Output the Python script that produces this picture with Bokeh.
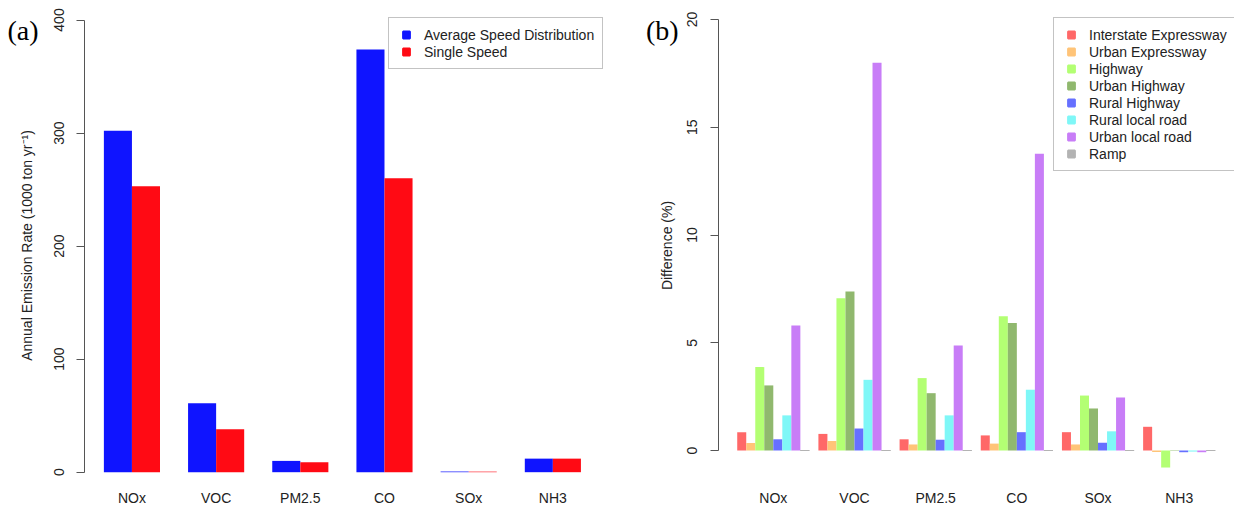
import math
from bokeh.plotting import figure
from bokeh.models import (Range1d, FixedTicker, Legend, LegendItem, Label,
                          ColumnDataSource, LinearAxis)
from bokeh.layouts import row
from bokeh.embed import file_html
from bokeh.resources import INLINE

# ---------------- data ----------------
pollutants = ["NOx", "VOC", "PM2.5", "CO", "SOx", "NH3"]

# panel (a): annual emission rate (1000 ton / yr)
avg_speed = [302, 61, 10, 374, 0.6, 12]
single_speed = [253, 38, 8.8, 260, 0.5, 12]
series_a = ["Average Speed Distribution", "Single Speed"]
colors_a = ["#0F14FF", "#FF0A14"]
yticks_a = [0, 100, 200, 300, 400]

# panel (b): difference (%) by road type
road_types = ["Interstate Expressway", "Urban Expressway", "Highway", "Urban Highway",
              "Rural Highway", "Rural local road", "Urban local road", "Ramp"]
interstate_expressway = [0.85, 0.77, 0.52, 0.70, 0.85, 1.10]
urban_expressway = [0.35, 0.44, 0.28, 0.32, 0.28, -0.07]
highway = [3.87, 7.07, 3.36, 6.23, 2.55, -0.79]
urban_highway = [3.02, 7.38, 2.66, 5.92, 1.95, -0.02]
rural_highway = [0.52, 1.02, 0.50, 0.85, 0.36, -0.08]
rural_local_road = [1.63, 3.28, 1.63, 2.82, 0.89, -0.05]
urban_local_road = [5.80, 17.99, 4.87, 13.77, 2.46, -0.08]
ramp = [0.0, 0.0, 0.0, 0.0, 0.0, 0.0]
series_b = [interstate_expressway, urban_expressway, highway, urban_highway,
            rural_highway, rural_local_road, urban_local_road, ramp]
colors_b = ["#FF6868", "#FFC478", "#B3FF73", "#90B86E", "#6670FF", "#7FF7F7", "#C87DF7", "#B3B3B3"]
yticks_b = [0, 5, 10, 15, 20]

SANS = "Liberation Sans"
SERIF = "Liberation Serif"
AXIS_COL = "#555555"
TXT_COL = "#222222"
W, H = 617, 512  # each panel canvas (px)


class Panel:
    """Maps the panel's plot region (R-style: bars span xlim, 4% padded) onto its canvas."""

    def __init__(self, xlim, left_px, right_px, ylim_ticks, ytop_px, yzero_px):
        self.sx = (right_px - left_px) / (xlim[1] - xlim[0])
        self.x0 = xlim[0] - left_px / self.sx
        self.sy = (yzero_px - ytop_px) / (ylim_ticks[1] - ylim_ticks[0])
        self.yzero_px = yzero_px
        self.xlim = xlim

    def x(self, px):
        return self.x0 + px / self.sx

    def y(self, py):
        return (self.yzero_px - py) / self.sy

    def x_range(self):
        return Range1d(self.x(0), self.x(W))

    def y_range(self):
        return Range1d(self.y(H), self.y(0))


def build(panel, yticks, xticks, xlabels, ylabel, title_x_px, tag, tag_x_px):
    p = figure(width=W, height=H, output_backend="svg", toolbar_location=None,
               x_range=panel.x_range(), y_range=panel.y_range(),
               x_axis_location=None, y_axis_location=None,
               min_border=0, min_border_left=0, min_border_right=0,
               min_border_top=0, min_border_bottom=0)
    p.grid.visible = False
    p.outline_line_color = None
    p.background_fill_color = "white"
    p.border_fill_color = "white"

    ya = LinearAxis(fixed_location=panel.xlim[0], ticker=FixedTicker(ticks=yticks),
                    bounds=(yticks[0], yticks[-1]))
    ya.axis_line_color = AXIS_COL
    ya.major_tick_line_color = AXIS_COL
    ya.minor_tick_line_color = None
    ya.major_tick_out = 8
    ya.major_tick_in = 0
    ya.major_label_orientation = "vertical"
    ya.major_label_standoff = 13
    ya.major_label_text_font = SANS
    ya.major_label_text_font_size = "14px"
    ya.major_label_text_color = TXT_COL
    p.add_layout(ya, "left")

    xa = LinearAxis(fixed_location=panel.y(479), ticker=FixedTicker(ticks=xticks))
    xa.major_label_overrides = {t: lab for t, lab in zip(xticks, xlabels)}
    xa.axis_line_color = None
    xa.major_tick_line_color = None
    xa.minor_tick_line_color = None
    xa.major_tick_out = 0
    xa.major_tick_in = 0
    xa.major_label_standoff = 10
    xa.major_label_text_font = SANS
    xa.major_label_text_font_size = "14px"
    xa.major_label_text_color = TXT_COL
    p.add_layout(xa, "below")

    # y-axis title (rotated, reads bottom-to-top), centred on the plot region
    p.add_layout(Label(x=panel.x(title_x_px), y=panel.y(245), text=ylabel, angle=math.pi / 2,
                       text_font=SANS, text_font_size="14px", text_color=TXT_COL,
                       text_align="center", text_baseline="alphabetic"))
    # panel tag
    p.add_layout(Label(x=panel.x(tag_x_px), y=panel.y(30), text=tag,
                       text_font=SERIF, text_font_size="28px", text_color="black",
                       text_align="left", text_baseline="alphabetic"))
    return p


def make_legend(p, labels, colors, xs, ys, loc):
    items = []
    for lab, col, x0, y0 in zip(labels, colors, xs, ys):
        # key glyph only: hidden in the plot, drawn in the legend
        r = p.scatter(x=[x0], y=[y0], marker="square", size=0, fill_color=col,
                      line_color=col, line_width=2)
        r.visible = False
        items.append(LegendItem(label=lab, renderers=[r]))
    leg = Legend(items=items, location=loc, orientation="vertical",
                 glyph_width=18, glyph_height=17, label_height=17,
                 spacing=0, padding=8, label_standoff=9, margin=0,
                 border_line_color="#888888", border_line_width=1,
                 background_fill_color="white", background_fill_alpha=1.0,
                 label_text_font=SANS, label_text_font_size="14px",
                 label_text_color=TXT_COL, click_policy="none")
    p.add_layout(leg)


n = len(pollutants)

# ---------------- panel (a) ----------------
grp_a = 3  # two bars + one space per group (bar units)
xlim_a = (1 - 0.04 * (grp_a * n - 1), grp_a * n + 0.04 * (grp_a * n - 1))
pan_a = Panel(xlim_a, 84.3, 599.5, (0, 400), 19.5, 471.7)
x_avg = [grp_a * k + 1.5 for k in range(n)]
x_single = [grp_a * k + 2.5 for k in range(n)]
src_a = ColumnDataSource(dict(x_avg=x_avg, x_single=x_single, avg=avg_speed, single=single_speed))

pa = build(pan_a, yticks_a, [grp_a * k + 2 for k in range(n)], pollutants,
           "Annual Emission Rate (1000 ton yr\u207b\u00b9)", 26.5, "(a)", 7)
pa.vbar(x="x_avg", top="avg", bottom=0, width=1, source=src_a,
        fill_color=colors_a[0], line_color=None)
pa.vbar(x="x_single", top="single", bottom=0, width=1, source=src_a,
        fill_color=colors_a[1], line_color=None)
make_legend(pa, series_a, colors_a, [x_avg[0], x_single[0]],
            [avg_speed[0], single_speed[0]], (388, 443))

# ---------------- panel (b) ----------------
nb = len(road_types)
grp_b = nb + 1
xlim_b = (1 - 0.04 * (grp_b * n - 1), grp_b * n + 0.04 * (grp_b * n - 1))
pan_b = Panel(xlim_b, 100.6, 616.9, (0, 20), 19.0, 450.0)
pb = build(pan_b, yticks_b, [grp_b * k + 5 for k in range(n)], pollutants,
           "Difference (%)", 49.5, "(b)", 28.5)
xs_b = []
for j, (vals, col) in enumerate(zip(series_b, colors_b)):
    xb = [grp_b * k + 1.5 + j for k in range(n)]
    xs_b.append(xb[0])
    src = ColumnDataSource(dict(x=xb, top=vals))
    pb.vbar(x="x", top="top", bottom=0, width=1, source=src,
            fill_color=col, line_color=col if road_types[j] == "Ramp" else None, line_width=1)
make_legend(pb, road_types, colors_b, xs_b, [s[0] for s in series_b], (436, 341))

layout = row(pa, pb)
open("out.html", "w").write(file_html(layout, INLINE))
